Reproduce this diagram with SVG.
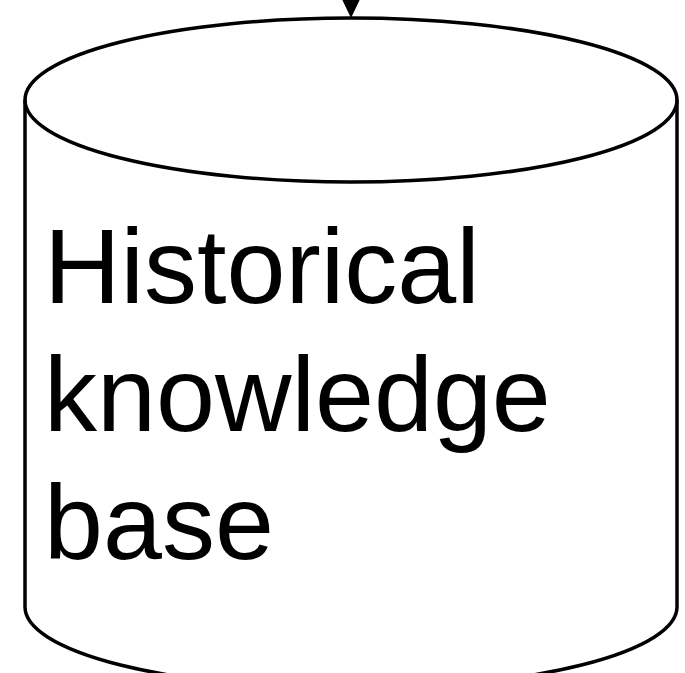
<svg xmlns="http://www.w3.org/2000/svg" width="685" height="673" viewBox="0 0 685 673">
  <style>
    .shape { fill: #ffffff; stroke: #000000; stroke-width: 3.5; }
    .line { fill: none; stroke: #000000; stroke-width: 3.5; }
    .label { font-family: "Liberation Sans", Arial, sans-serif; font-size: 106px; fill: #000000; }
  </style>
  <rect width="685" height="673" fill="#ffffff"/>
  <g id="connectors">
    <line class="line" x1="351" y1="-30" x2="351" y2="5"/>
    <polygon points="340,-6 362,-6 351,17" fill="#000000" stroke="#000000" stroke-width="1"/>
  </g>
  <g id="historical-knowledge-base">
    <path class="shape" d="M25,100 A326,82 0 0 1 677,100 L677,607 A326,82 0 0 1 25,607 Z"/>
    <path class="line" d="M25,100 A326,82 0 0 0 677,100"/>
    <text class="label" x="44" y="303">Historical</text>
    <text class="label" x="44" y="431">knowledge</text>
    <text class="label" x="44" y="559">base</text>
  </g>
</svg>
